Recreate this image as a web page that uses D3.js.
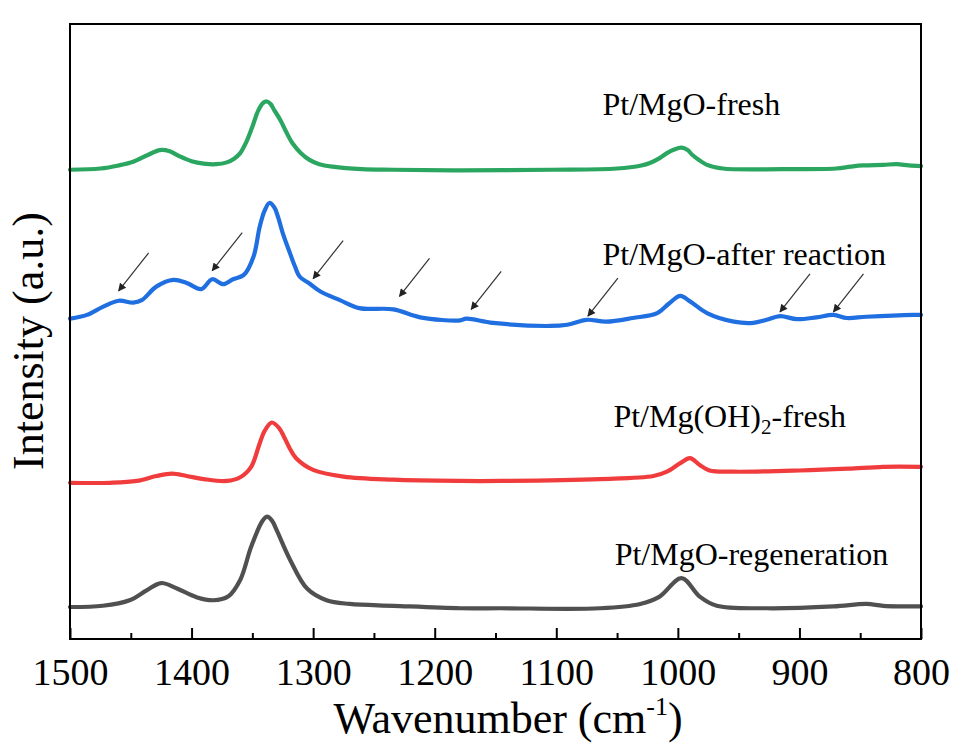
<!DOCTYPE html>
<html>
<head>
<meta charset="utf-8">
<script src="https://cdn.jsdelivr.net/npm/d3@7"></script>
<style>
  html, body { margin: 0; padding: 0; background: #fff; }
  svg { display: block; }
  text { font-family: "Liberation Serif", "Times New Roman", serif; fill: #000; }
</style>
</head>
<body>
<svg id="chart" width="957" height="744"></svg>
<script>
// ---- Data (wavenumber cm^-1, intensity a.u., curves stacked as plotted) ----
const seriesNames = ["Pt/MgO-fresh", "Pt/MgO-after reaction", "Pt/Mg(OH)2-fresh", "Pt/MgO-regeneration"];
const seriesColors = ["#2ba660", "#1f6fe0", "#f03c3c", "#505050"];

const freshMgO = [
  [1500, 76.3], [1475, 76.5], [1460, 77.0], [1448, 77.6], [1436, 78.7], [1426, 79.5], [1418, 79.3],
  [1410, 78.5], [1400, 77.7], [1390, 77.3], [1380, 77.2], [1371, 77.5], [1365, 78.1], [1360, 79.0],
  [1355, 80.8], [1350, 83.3], [1345, 86.0], [1341, 87.2], [1338, 87.4], [1335, 87.0], [1332, 86.0],
  [1327, 84.4], [1322, 82.4], [1317, 80.6], [1310, 79.0], [1303, 77.9], [1295, 77.2], [1284, 76.8],
  [1260, 76.4], [1234, 76.3], [1179, 76.2], [1105, 76.3], [1050, 76.5], [1030, 77.0], [1023, 77.4],
  [1015, 78.2], [1009, 79.0], [1003, 79.6], [997, 79.9], [992, 79.5], [988, 78.7], [982, 77.8],
  [976, 77.1], [963, 76.5], [914, 76.4], [870, 76.5], [858, 76.8], [848, 77.0], [831, 77.1],
  [820, 77.2], [810, 77.0], [800, 76.9]
];

const afterReaction = [
  [1500, 52.1], [1486, 52.7], [1473, 54.0], [1460, 55.0], [1448, 54.7], [1441, 55.1], [1429, 57.3],
  [1415, 58.4], [1404, 57.9], [1392, 56.9], [1383, 58.5], [1374, 57.7], [1366, 58.5], [1357, 59.2],
  [1349, 62.2], [1344, 67.0], [1340, 69.6], [1336, 70.9], [1332, 70.2], [1329, 68.7], [1325, 66.0],
  [1319, 62.7], [1315, 60.6], [1311, 58.9], [1303, 57.8], [1294, 56.5], [1278, 55.1], [1262, 53.8],
  [1234, 53.6], [1212, 52.3], [1179, 51.8], [1174, 52.1], [1152, 51.4], [1105, 50.9], [1091, 51.1],
  [1075, 51.9], [1059, 51.6], [1037, 52.2], [1017, 53.0], [1007, 54.6], [998, 55.8], [990, 54.9],
  [976, 53.0], [954, 51.6], [938, 51.4], [927, 51.9], [916, 52.5], [902, 52.0], [886, 52.3],
  [872, 52.7], [861, 52.2], [845, 52.4], [806, 52.7], [800, 52.7]
];

const freshMgOH2 = [
  [1500, 25.4], [1467, 25.4], [1445, 25.7], [1429, 26.5], [1416, 26.9], [1404, 26.5], [1390, 26.0],
  [1371, 25.7], [1360, 26.3], [1351, 28.0], [1344, 31.8], [1340, 33.8], [1334, 35.2], [1328, 34.3],
  [1324, 32.9], [1319, 30.9], [1314, 29.4], [1300, 27.5], [1275, 26.4], [1234, 25.9], [1179, 25.7],
  [1146, 25.7], [1064, 26.0], [1020, 26.5], [1009, 27.2], [998, 28.6], [990, 29.4], [982, 28.3],
  [974, 27.4], [954, 27.2], [900, 27.4], [860, 27.7], [831, 28.0], [800, 28.0]
];

const regeneration = [
  [1500, 5.2], [1473, 5.4], [1451, 6.3], [1437, 7.9], [1425, 9.1], [1412, 8.2], [1396, 6.8],
  [1382, 6.3], [1370, 6.9], [1360, 9.6], [1351, 15.0], [1342, 19.1], [1338, 19.9], [1334, 19.3],
  [1330, 17.7], [1319, 12.9], [1305, 8.2], [1289, 6.3], [1270, 5.7], [1234, 5.4], [1179, 5.0],
  [1146, 5.0], [1064, 5.0], [1031, 5.7], [1015, 6.9], [997, 9.9], [982, 6.9], [968, 5.4],
  [927, 5.0], [872, 5.3], [845, 5.7], [831, 5.4], [800, 5.3]
];

const seriesData = [freshMgO, afterReaction, freshMgOH2, regeneration];

// label anchors (wavenumber of text start, intensity of baseline)
const labelWn = [1062, 1062, 1053, 1052];
const labelVal = [85.2, 60.8, 34.5, 12.0];

// arrows marking weak bands on the after-reaction spectrum (tip position)
const arrowWn = [1460, 1383, 1300, 1229, 1170, 1074, 916, 872];
const arrowVal = [56.6, 59.9, 58.6, 55.7, 53.6, 52.5, 53.2, 53.2];

const majorTicks = [1500, 1400, 1300, 1200, 1100, 1000, 900, 800];
const minorTicks = [1450, 1350, 1250, 1150, 1050, 950, 850];

// ---- Layout ----
const W = 957, H = 744;
const plot = { left: 70, right: 921, top: 24, bottom: 639 };
const svg = d3.select("#chart");
svg.append("rect").attr("width", W).attr("height", H).attr("fill", "#fff");

const x = d3.scaleLinear().domain([1500, 800]).range([plot.left, plot.right]);
const y = d3.scaleLinear().domain([0, 100]).range([plot.bottom, plot.top]);

// defs: arrowhead
svg.append("defs").append("marker")
  .attr("id", "ah").attr("viewBox", "0 0 10 10").attr("refX", 9).attr("refY", 5)
  .attr("markerWidth", 9).attr("markerHeight", 8).attr("markerUnits", "userSpaceOnUse")
  .attr("orient", "auto")
  .append("path").attr("d", "M0,0 L10,5 L0,10 Z").attr("fill", "#222");

// curves
const line = d3.line().x(d => x(d[0])).y(d => y(d[1])).curve(d3.curveCatmullRom.alpha(0.5));
svg.append("g").selectAll("path").data(seriesData).join("path")
  .attr("d", line)
  .attr("fill", "none")
  .attr("stroke", (d, i) => seriesColors[i])
  .attr("stroke-width", 4.2)
  .attr("stroke-linejoin", "round")
  .attr("stroke-linecap", "round");

// arrows
svg.append("g").selectAll("line").data(arrowWn).join("line")
  .attr("x1", (d) => x(d) + 30)
  .attr("y1", (d, i) => y(arrowVal[i]) - 38)
  .attr("x2", d => x(d))
  .attr("y2", (d, i) => y(arrowVal[i]))
  .attr("stroke", "#333").attr("stroke-width", 1.2)
  .attr("marker-end", "url(#ah)");

// frame
svg.append("rect")
  .attr("x", plot.left).attr("y", plot.top)
  .attr("width", plot.right - plot.left).attr("height", plot.bottom - plot.top)
  .attr("fill", "none").attr("stroke", "#000").attr("stroke-width", 2);

// bottom axis: major ticks inward with labels
const axMajor = d3.axisBottom(x).tickValues(majorTicks).tickSizeInner(-11).tickSizeOuter(0)
  .tickPadding(19).tickFormat(d3.format("d"));
const gx = svg.append("g").attr("transform", `translate(0,${plot.bottom})`).call(axMajor);
gx.select(".domain").remove();
gx.selectAll(".tick line").attr("stroke", "#000").attr("stroke-width", 2);
gx.selectAll(".tick text").attr("font-size", 38).attr("font-family", "Liberation Serif, Times New Roman, serif").attr("fill", "#000");

const axMinor = d3.axisBottom(x).tickValues(minorTicks).tickSizeInner(-6).tickSizeOuter(0).tickFormat("");
const gm = svg.append("g").attr("transform", `translate(0,${plot.bottom})`).call(axMinor);
gm.select(".domain").remove();
gm.selectAll(".tick line").attr("stroke", "#000").attr("stroke-width", 2);

// axis titles
const xt = svg.append("text").attr("x", 508).attr("y", 733).attr("text-anchor", "middle").attr("font-size", 44);
xt.append("tspan").text("Wavenumber (cm");
xt.append("tspan").attr("font-size", 26).attr("dy", -18).text("-1");
xt.append("tspan").attr("dy", 18).text(")");

svg.append("text")
  .attr("transform", `translate(43,341) rotate(-90)`)
  .attr("text-anchor", "middle").attr("font-size", 44)
  .text("Intensity (a.u.)");

// series labels
const lab = svg.append("g").attr("font-size", 32);
seriesNames.forEach((name, i) => {
  const t = lab.append("text").attr("x", x(labelWn[i])).attr("y", y(labelVal[i]));
  if (name.includes("(OH)2")) {
    t.append("tspan").text("Pt/Mg(OH)");
    t.append("tspan").attr("font-size", 21).attr("dy", 7).text("2");
    t.append("tspan").attr("dy", -7).text("-fresh");
  } else {
    t.text(name);
  }
});
</script>
</body>
</html>
